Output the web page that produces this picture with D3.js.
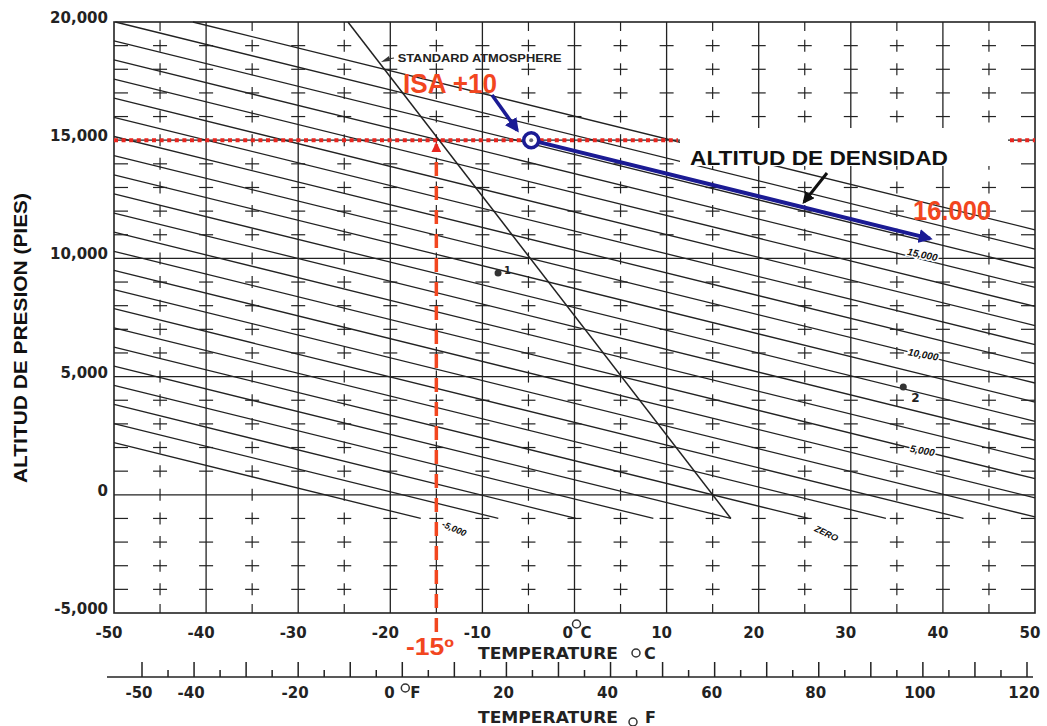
<!DOCTYPE html>
<html><head><meta charset="utf-8">
<script src="https://cdn.jsdelivr.net/npm/d3@7"></script>
<style>body{margin:0;background:#fff}</style>
</head><body>
<script>
// ---------- data ----------
const tempTicksC   = [-50,-40,-30,-20,-10,0,10,20,30,40,50];
const tempLabelsC  = ["-50","-40","-30","-20","-10","0","10","20","30","40","50"];
const gridTempsC   = [-40,-30,-20,-10,0,10,20,30,40];
const crossTempsC  = [-45,-35,-25,-15,-5,5,15,25,35,45];
const altGrid      = [0,5000,10000,15000];
const altTicks     = [-5000,0,5000,10000,15000,20000];
const altTickLabels= ["-5,000","0","5,000","10,000","15,000","20,000"];
const altSteps     = [-5000,-4000,-3000,-2000,-1000,0,1000,2000,3000,4000,5000,6000,7000,8000,9000,10000,11000,12000,13000,14000,15000,16000,17000,18000,19000,20000];
const densityAltitudes = [-5000,-4000,-3000,-2000,-1000,0,1000,2000,3000,4000,5000,6000,7000,8000,9000,10000,11000,12000,13000,14000,15000,16000,17000,18000];
const densityLabels     = ["-5,000","ZERO","5,000","10,000","15,000"];
const densityLabelTemps = [-13.2, 27.2, 37.7, 37.8, 37.7];
const densityLabelAlts  = [-1550, -1750, 1726, 5787, 10017];
const densityLabelAngles= [24, 26, 10, 10, 12];
const fTicksMajor = [-50,-40,-30,-20,-10,0,10,20,30,40,50,60,70,80,90,100,110,120];
const fTicksMinor = [-45,-35,-25,-15,-5,5,15,25,35,45,55,65,75,85,95,105,115];
const fLabels     = [-50,-40,-20,20,40,60,80,100,120];
const exampleNames = ["1","2"];
const exampleTemps = [-8.3, 35.7];
const exampleAlts  = [9382, 4560];
const givenPA = 15000, givenTempC = -15, isaTempC = -4.7, arrowEndTempC = 38.6;
const stdLowAlt = -1000;   // lowest pressure altitude of chart lines

// physical constants for the lines
const LAPSE = 1.98/1000, KDA = 118.8;
const isa = pa => 15 - LAPSE*pa;
const paFromDA = (da,t) => (da - KDA*(t-15))/(1+KDA*LAPSE);
const tFromDA  = (da,pa) => 15 + (da - pa*(1+KDA*LAPSE))/KDA;
const daOf     = (pa,t) => pa*(1+KDA*LAPSE) + KDA*(t-15);

// ---------- layout ----------
const W=1047,H=726;
const x = d3.scaleLinear().domain([-50,50]).range([114,1035]);
const y = d3.scaleLinear().domain([-5000,20000]).range([613,22]);
const xF = d3.scaleLinear().domain([-50,120]).range([142,1027]);
const INK="#222", RED="#e8261f", ORANGE="#f2461f", BLUE="#1b1b94";
const svg = d3.select("body").append("svg").attr("width",W).attr("height",H);
svg.append("rect").attr("width",W).attr("height",H).attr("fill","#fff");
const defs = svg.append("defs");
function marker(id,color,size){
  defs.append("marker").attr("id",id).attr("viewBox","0 0 10 10").attr("refX",8).attr("refY",5)
    .attr("markerWidth",size).attr("markerHeight",size).attr("orient","auto-start-reverse")
    .attr("markerUnits","userSpaceOnUse")
    .append("path").attr("d","M0,0L10,5L0,10z").attr("fill",color);
}
marker("mBlue",BLUE,14); marker("mBlk","#111",12); marker("mRed",RED,10);

const g = svg.append("g");
// grid lines
g.selectAll(".vg").data(gridTempsC).join("line")
  .attr("x1",d=>x(d)).attr("x2",d=>x(d)).attr("y1",y(20000)).attr("y2",y(-5000))
  .attr("stroke",INK).attr("stroke-width",1.3);
g.selectAll(".hg").data(altGrid).join("line")
  .attr("x1",x(-50)).attr("x2",x(50)).attr("y1",d=>y(d)).attr("y2",d=>y(d))
  .attr("stroke",INK).attr("stroke-width",1.2);

// crosses / ticks
const marks=[];
crossTempsC.forEach(t=>altSteps.forEach(a=>{
  const cx=x(t), cy=y(a);
  if(a===20000) marks.push([cx,cy,cx,cy+9]);
  else if(a===-5000) marks.push([cx,cy,cx,cy-9]);
  else if(a%5000===0) marks.push([cx,cy-6,cx,cy+6]);
  else { marks.push([cx-7,cy,cx+7,cy]); marks.push([cx,cy-6,cx,cy+6]); }
}));
tempTicksC.forEach(t=>altSteps.forEach(a=>{
  if(a%5000===0) return;
  const cx=x(t), cy=y(a);
  if(t===-50) marks.push([cx,cy,cx+14,cy]);
  else if(t===50) marks.push([cx-14,cy,cx,cy]);
  else marks.push([cx-7,cy,cx+7,cy]);
}));
g.selectAll(".mk").data(marks).join("line")
  .attr("x1",d=>d[0]).attr("y1",d=>d[1]).attr("x2",d=>d[2]).attr("y2",d=>d[3])
  .attr("stroke",INK).attr("stroke-width",1.2);

// density altitude lines
const daSegs = densityAltitudes.map(da=>{
  let t0 = -50, p0 = paFromDA(da,-50);
  if(p0>20000){ p0=20000; t0=tFromDA(da,20000); }
  let t1 = tFromDA(da,stdLowAlt), p1 = stdLowAlt;
  if(t1>50){ t1=50; p1=paFromDA(da,50); }
  return [[t0,p0],[t1,p1]];
});
const line = d3.line().x(d=>x(d[0])).y(d=>y(d[1]));
g.selectAll(".da").data(daSegs).join("path").attr("d",line)
  .attr("fill","none").attr("stroke",INK).attr("stroke-width",1.3);

// standard atmosphere line
const stdLine = [[isa(20000),20000],[isa(stdLowAlt),stdLowAlt]];
g.append("path").attr("d",line(stdLine)).attr("fill","none").attr("stroke",INK).attr("stroke-width",1.5);

// frame
g.append("rect").attr("x",x(-50)).attr("y",y(20000)).attr("width",x(50)-x(-50)).attr("height",y(-5000)-y(20000))
  .attr("fill","none").attr("stroke",INK).attr("stroke-width",1.6);

// density labels on lines
densityLabels.forEach((s,i)=>{
  const px=x(densityLabelTemps[i]), py=y(densityLabelAlts[i]);
  svg.append("text").attr("x",px).attr("y",py).attr("text-anchor","middle")
    .attr("transform",`rotate(${densityLabelAngles[i]},${px},${py})`)
    .attr("font-family","Liberation Sans, Arial, sans-serif").attr("font-weight","bold").attr("font-style","italic")
    .attr("font-size",i<2?9:10).attr("fill","#111")
    .attr("stroke","#fff").attr("stroke-width",3).attr("paint-order","stroke").text(s);
});

// example points
exampleNames.forEach((n,i)=>{
  const px=x(exampleTemps[i]), py=y(exampleAlts[i]);
  svg.append("circle").attr("cx",px).attr("cy",py).attr("r",3.5).attr("fill","#333");
  svg.append("text").attr("x",px+(i?8:6)).attr("y",py+(i?15:1)).attr("font-family","DejaVu Sans, sans-serif")
    .attr("font-weight","bold").attr("font-size",i?12:10).attr("fill","#222").text(n);
});

// standard atmosphere label
{
  const ly=58, pa=y.invert(ly+3), sx=x(isa(pa));
  svg.append("line").attr("x1",sx+10).attr("y1",ly+1).attr("x2",x(-19.6)).attr("y2",ly).attr("stroke","#333").attr("stroke-width",1.2);
  svg.append("path").attr("d",`M${sx+3},${ly+4}L${sx+11},${ly-2}L${sx+12},${ly+3}z`).attr("fill","#333");
  svg.append("text").attr("x",x(-19.2)).attr("y",ly+4).attr("font-family","Liberation Sans, Arial, sans-serif")
    .attr("font-weight","bold").attr("font-size",11).attr("textLength",164).attr("lengthAdjust","spacingAndGlyphs")
    .attr("fill","#222").text("STANDARD ATMOSPHERE");
}

// white label box + ALTITUD DE DENSIDAD
svg.append("rect").attr("x",680).attr("y",128).attr("width",328).attr("height",38).attr("fill","#fff");
svg.append("text").attr("x",690).attr("y",165).attr("font-family","Liberation Sans, Arial, sans-serif")
  .attr("font-weight","bold").attr("font-size",21).attr("textLength",258).attr("lengthAdjust","spacingAndGlyphs")
  .attr("fill","#111").text("ALTITUD DE DENSIDAD");
svg.append("line").attr("x1",827).attr("y1",173).attr("x2",804).attr("y2",202)
  .attr("stroke","#111").attr("stroke-width",3).attr("marker-end","url(#mBlk)");

// red dotted line at given PA
[[x(-50),678],[1010,x(50)]].forEach(s=>{
  svg.append("line").attr("x1",s[0]).attr("x2",s[1]).attr("y1",y(givenPA)).attr("y2",y(givenPA))
    .attr("stroke",RED).attr("stroke-width",4).attr("stroke-dasharray","4,3.6");
});
// red dashed vertical at given temperature
svg.append("line").attr("x1",x(givenTempC)).attr("x2",x(givenTempC)).attr("y1",632).attr("y2",y(givenPA)+4)
  .attr("stroke",ORANGE).attr("stroke-width",3.5).attr("stroke-dasharray","14,10").attr("marker-end","url(#mRed)");

// blue: ISA+10 point and arrow along DA line
const daRes = daOf(givenPA,isaTempC);
const cx0=x(isaTempC), cy0=y(givenPA);
const ex=x(arrowEndTempC), ey=y(paFromDA(daRes,arrowEndTempC));
const ang=Math.atan2(ey-cy0,ex-cx0);
svg.append("line").attr("x1",cx0+8*Math.cos(ang)).attr("y1",cy0+8*Math.sin(ang)).attr("x2",ex).attr("y2",ey)
  .attr("stroke",BLUE).attr("stroke-width",4).attr("marker-end","url(#mBlue)");
svg.append("circle").attr("cx",cx0).attr("cy",cy0).attr("r",7.5).attr("fill","#fff").attr("stroke",BLUE).attr("stroke-width",3.5);
svg.append("circle").attr("cx",cx0).attr("cy",cy0).attr("r",2).attr("fill","#667");
svg.append("line").attr("x1",492).attr("y1",95).attr("x2",cx0-14).attr("y2",cy0-10)
  .attr("stroke",BLUE).attr("stroke-width",3.5).attr("marker-end","url(#mBlue)");

// orange annotations
function orangeText(s,xx,yy,fs,len){
  svg.append("text").attr("x",xx).attr("y",yy).attr("font-family","Liberation Sans, Arial, sans-serif")
    .attr("font-weight","bold").attr("font-size",fs).attr("fill",ORANGE)
    .attr("textLength",len).attr("lengthAdjust","spacingAndGlyphs").text(s);
}
orangeText("ISA +10",403,93,27,94);
orangeText("16.000",913,220,27,78);
orangeText("-15º",406,655,23,48);

// axes text
const tickFont="DejaVu Sans, sans-serif";
svg.selectAll(".yl").data(altTicks).join("text")
  .attr("x",108).attr("y",d=>y(d)+1).attr("text-anchor","end")
  .attr("font-family",tickFont).attr("font-weight","bold").attr("font-size",15).attr("fill","#222")
  .text((d,i)=>altTickLabels[i]);
svg.selectAll(".xl").data(tempTicksC.filter(d=>d!==0)).join("text")
  .attr("x",d=>x(d)-5).attr("y",638).attr("text-anchor","middle")
  .attr("font-family",tickFont).attr("font-weight","bold").attr("font-size",15).attr("fill","#222")
  .text(d=>tempLabelsC[tempTicksC.indexOf(d)]);
// 0 °C
svg.append("text").attr("x",x(0)-12).attr("y",638).attr("font-family",tickFont).attr("font-weight","bold").attr("font-size",15).attr("fill","#222").text("0");
svg.append("circle").attr("cx",x(0)+2).attr("cy",624).attr("r",4).attr("fill","none").attr("stroke","#333").attr("stroke-width",1.5);
svg.append("text").attr("x",x(0)+6).attr("y",638).attr("font-family",tickFont).attr("font-weight","bold").attr("font-size",15).attr("fill","#222").text("C");
// TEMPERATURE °C
svg.append("text").attr("x",478).attr("y",659).attr("font-family",tickFont).attr("font-weight","bold").attr("font-size",15)
  .attr("textLength",140).attr("lengthAdjust","spacingAndGlyphs").attr("fill","#222").text("TEMPERATURE");
svg.append("circle").attr("cx",636).attr("cy",653).attr("r",4).attr("fill","none").attr("stroke","#333").attr("stroke-width",1.5);
svg.append("text").attr("x",644).attr("y",659).attr("font-family",tickFont).attr("font-weight","bold").attr("font-size",16).attr("fill","#222").text("C");

// F axis
svg.append("line").attr("x1",107).attr("x2",1033).attr("y1",677).attr("y2",677).attr("stroke",INK).attr("stroke-width",1.5);
svg.selectAll(".fM").data(fTicksMajor).join("line").attr("x1",d=>xF(d)).attr("x2",d=>xF(d)).attr("y1",677).attr("y2",662)
  .attr("stroke",INK).attr("stroke-width",1.5);
svg.selectAll(".fm").data(fTicksMinor).join("line").attr("x1",d=>xF(d)).attr("x2",d=>xF(d)).attr("y1",677).attr("y2",670)
  .attr("stroke",INK).attr("stroke-width",1.5);
svg.selectAll(".fl").data(fLabels).join("text").attr("x",d=>xF(d)-3).attr("y",698).attr("text-anchor","middle")
  .attr("font-family",tickFont).attr("font-weight","bold").attr("font-size",15).attr("fill","#222").text(d=>d);
svg.append("text").attr("x",xF(0)-18).attr("y",698).attr("font-family",tickFont).attr("font-weight","bold").attr("font-size",15).attr("fill","#222").text("0");
svg.append("circle").attr("cx",xF(0)+3).attr("cy",688).attr("r",4).attr("fill","none").attr("stroke","#333").attr("stroke-width",1.5);
svg.append("text").attr("x",xF(0)+8).attr("y",698).attr("font-family",tickFont).attr("font-weight","bold").attr("font-size",15).attr("fill","#222").text("F");
svg.append("text").attr("x",478).attr("y",723).attr("font-family",tickFont).attr("font-weight","bold").attr("font-size",15)
  .attr("textLength",140).attr("lengthAdjust","spacingAndGlyphs").attr("fill","#222").text("TEMPERATURE");
svg.append("circle").attr("cx",633).attr("cy",722).attr("r",4).attr("fill","none").attr("stroke","#333").attr("stroke-width",1.5);
svg.append("text").attr("x",645).attr("y",723).attr("font-family",tickFont).attr("font-weight","bold").attr("font-size",16).attr("fill","#222").text("F");

// Y title
svg.append("text").attr("transform","translate(27,338) rotate(-90)").attr("text-anchor","middle")
  .attr("font-family","Liberation Sans, Arial, sans-serif").attr("font-weight","bold").attr("font-size",18)
  .attr("textLength",290).attr("lengthAdjust","spacingAndGlyphs").attr("fill","#111").text("ALTITUD DE PRESION (PIES)");
</script>
</body></html>
